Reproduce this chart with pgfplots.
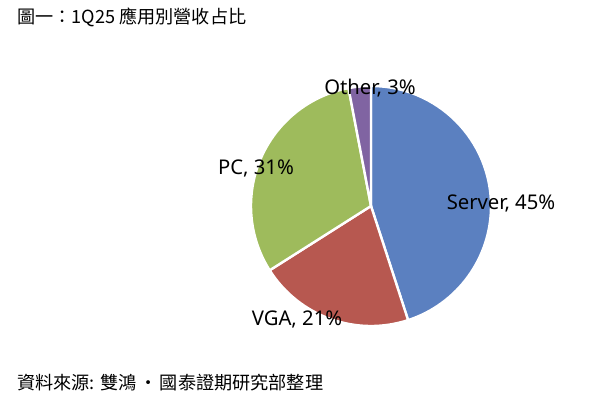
\documentclass[border=0pt]{standalone}
\usepackage{pgfplots}
\pgfplotsset{compat=1.18}
\usepackage{pgfplotstable}
\usepackage{fontspec}
\setmainfont{Noto Sans CJK TC}
\newfontfamily\lab{Noto Sans}
\definecolor{srv}{RGB}{91,128,192}
\definecolor{vga}{RGB}{183,88,80}
\definecolor{pcc}{RGB}{158,187,92}
\definecolor{oth}{RGB}{128,100,162}

\pgfplotstableread[col sep=comma]{
name,value
Server,45
VGA,21
PC,31
Other,3
}\piedata

\begin{document}
\begin{tikzpicture}
\begin{axis}[x=0.75pt,y=0.75pt,xmin=0,xmax=600,ymin=0,ymax=397,
  hide axis,scale only axis,clip=false]
\pgfplotsextra{
  \path (axis cs:0,0) rectangle (axis cs:600,397);
  \gdef\curang{90}
  \foreach \i/\col in {0/srv,1/vga,2/pcc,3/oth}{
    \pgfplotstablegetelem{\i}{value}\of\piedata
    \pgfmathsetmacro{\endang}{\curang-3.6*\pgfplotsretval}
    \fill[\col, draw=white, line width=1.8pt, line join=round]
      (axis cs:371,191) -- ++(\curang:90pt)
      arc[start angle=\curang, end angle=\endang, radius=90pt] -- cycle;
    \global\let\curang\endang
  }
  \tikzset{lbl/.style={font=\lab\fontsize{15.2}{17}\selectfont, inner sep=0pt}}
  \node[lbl] at (axis cs:501,194) {Server, 45\%};
  \node[lbl] at (axis cs:297,78) {VGA, 21\%};
  \node[lbl] at (axis cs:256,229) {PC, 31\%};
  \node[lbl] at (axis cs:370,309) {Other, 3\%};
  \node[font=\fontsize{13.6}{15}\selectfont, anchor=base west, inner sep=0pt] at (axis cs:17,373) {圖一：1Q25 應用別營收占比};
  \node[font=\fontsize{13.6}{15}\selectfont, anchor=base west, inner sep=0pt] at (axis cs:17,8) {資料來源: 雙鴻\kern2pt·\kern2pt國泰證期研究部整理};
}
\end{axis}
\end{tikzpicture}
\end{document}
